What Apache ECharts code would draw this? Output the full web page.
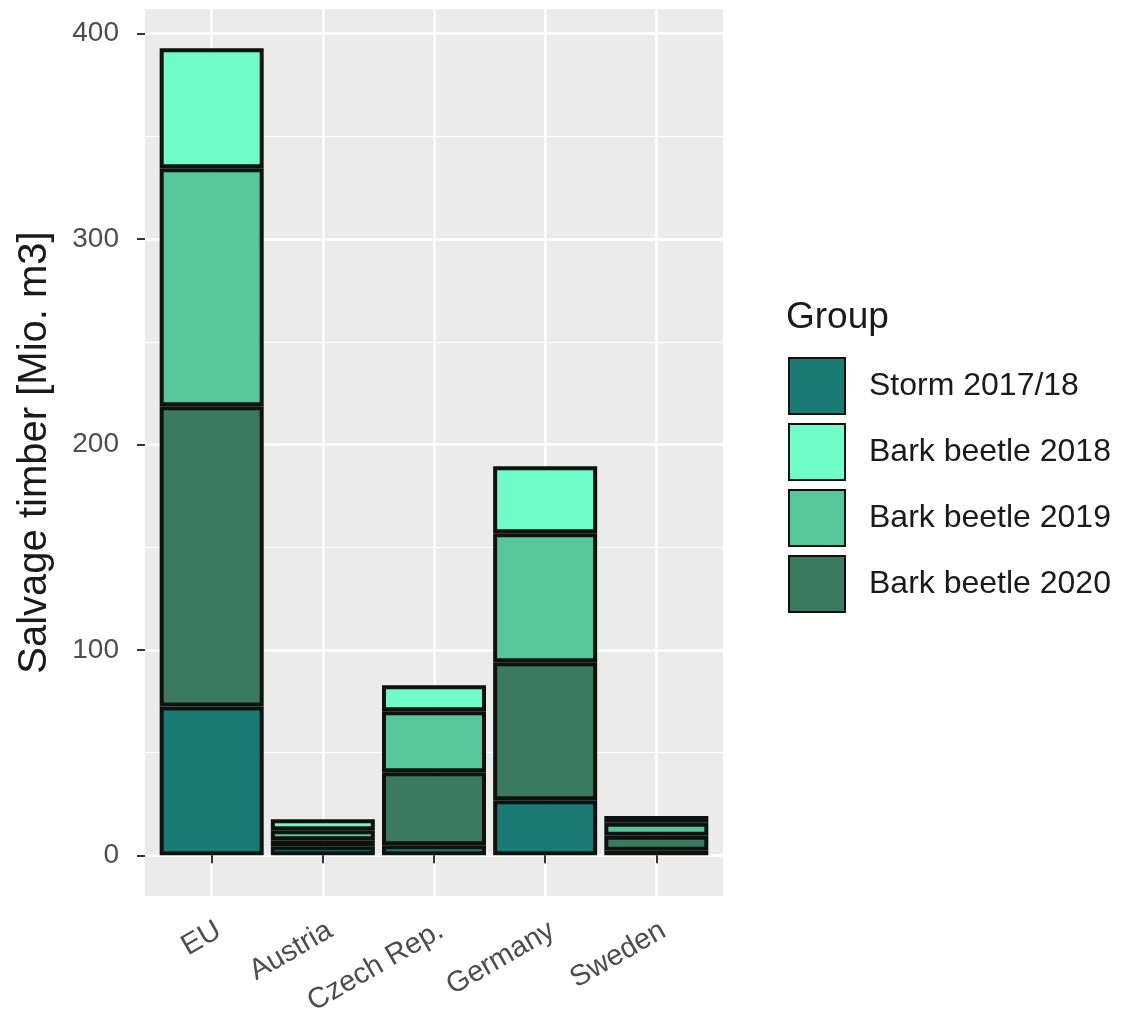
<!DOCTYPE html>
<html>
<head>
<meta charset="utf-8">
<script src="https://cdn.jsdelivr.net/npm/echarts@6/dist/echarts.min.js"></script>
<style>
html,body{margin:0;padding:0;background:#fff;}
#c{width:1122px;height:1023px;}
</style>
</head>
<body>
<div id="c"></div>
<script>
const categories = ['EU', 'Austria', 'Czech Rep.', 'Germany', 'Sweden'];
const storm2017 = [72.5, 4.4, 4.9, 26.8, 2.2];
const beetle2020 = [146.1, 2.9, 35.5, 67.2, 7.3];
const beetle2019 = [115.9, 4.9, 29.7, 62.8, 6.3];
const beetle2018 = [58.4, 5.4, 12.7, 32.6, 3.4];
const yTicks = [0, 100, 200, 300, 400];
const yMinor = [50, 150, 250, 350];
const xTickPos = [1, 2, 3, 4, 5];
const legendOrder = ['Storm 2017/18', 'Bark beetle 2018', 'Bark beetle 2019', 'Bark beetle 2020'];

const colors = {
  'Storm 2017/18': '#1a7a74',
  'Bark beetle 2018': '#6ffcc8',
  'Bark beetle 2019': '#55c79b',
  'Bark beetle 2020': '#3b7a60'
};
const FONT = 'Liberation Sans, Arial, sans-serif';
const Y_MIN = -19.8, Y_MAX = 412;

function mk(name, vals) {
  return {
    name: name,
    type: 'bar',
    stack: 'total',
    xAxisIndex: 1,
    yAxisIndex: 2,
    barWidth: 104,
    data: vals,
    itemStyle: { color: colors[name], borderColor: '#0d120f', borderWidth: 4 },
    emphasis: { disabled: true }
  };
}

const chart = echarts.init(document.getElementById('c'));
chart.setOption({
  animation: false,
  textStyle: { fontFamily: FONT },
  title: {
    text: 'Group',
    left: 781, top: 294,
    textStyle: { fontFamily: FONT, fontSize: 37, fontWeight: 'normal', color: '#1a1a1a' }
  },
  legend: {
    data: legendOrder,
    orient: 'vertical',
    left: 783, top: 352,
    itemWidth: 56, itemHeight: 56, itemGap: 8,
    icon: 'rect',
    selectedMode: false,
    textStyle: { fontFamily: FONT, fontSize: 32, color: '#1a1a1a', padding: [0, 0, 0, 19] }
  },
  grid: [
    { left: 145, top: 9, right: 399, bottom: 127, show: true, backgroundColor: '#ebebeb', borderWidth: 0 },
    { left: 156.1, top: 9, right: 410.1, bottom: 127, show: false }
  ],
  xAxis: [{
    type: 'value',
    gridIndex: 0,
    min: 0.4, max: 5.6,
    axisLine: { show: false },
    axisTick: { show: true, length: 8, lineStyle: { color: '#333', width: 2 }, customValues: xTickPos },
    axisLabel: {
      customValues: xTickPos,
      rotate: 30, margin: 20,
      align: 'right', verticalAlign: 'top',
      fontFamily: FONT, fontSize: 29, color: '#4d4d4d',
      formatter: v => categories[Math.round(v) - 1]
    },
    splitLine: { show: true, lineStyle: { color: '#ffffff', width: 2.5 } }
  }, {
    type: 'category',
    gridIndex: 1,
    data: categories,
    show: false
  }],
  yAxis: [{
    type: 'value',
    gridIndex: 0,
    min: Y_MIN, max: Y_MAX,
    name: 'Salvage timber [Mio. m3]',
    nameLocation: 'middle',
    nameGap: 90,
    nameTextStyle: { fontFamily: FONT, fontSize: 40, color: '#1a1a1a' },
    axisLine: { show: false },
    axisTick: { show: true, length: 8, lineStyle: { color: '#333', width: 2 }, customValues: yTicks },
    axisLabel: { customValues: yTicks, margin: 26, fontFamily: FONT, fontSize: 28, color: '#4d4d4d' },
    splitLine: { show: true, lineStyle: { color: '#ffffff', width: 2.5 } }
  }, {
    type: 'value',
    gridIndex: 0,
    min: Y_MIN, max: Y_MAX,
    position: 'left',
    axisLine: { show: false },
    axisTick: { show: false, customValues: yMinor },
    axisLabel: { show: false, customValues: yMinor },
    splitLine: { show: true, lineStyle: { color: '#ffffff', width: 1.2 } }
  }, {
    type: 'value',
    gridIndex: 1,
    min: Y_MIN, max: Y_MAX,
    show: false,
    splitLine: { show: false }
  }],
  series: [
    mk('Storm 2017/18', storm2017),
    mk('Bark beetle 2020', beetle2020),
    mk('Bark beetle 2019', beetle2019),
    mk('Bark beetle 2018', beetle2018)
  ]
});
</script>
</body>
</html>
